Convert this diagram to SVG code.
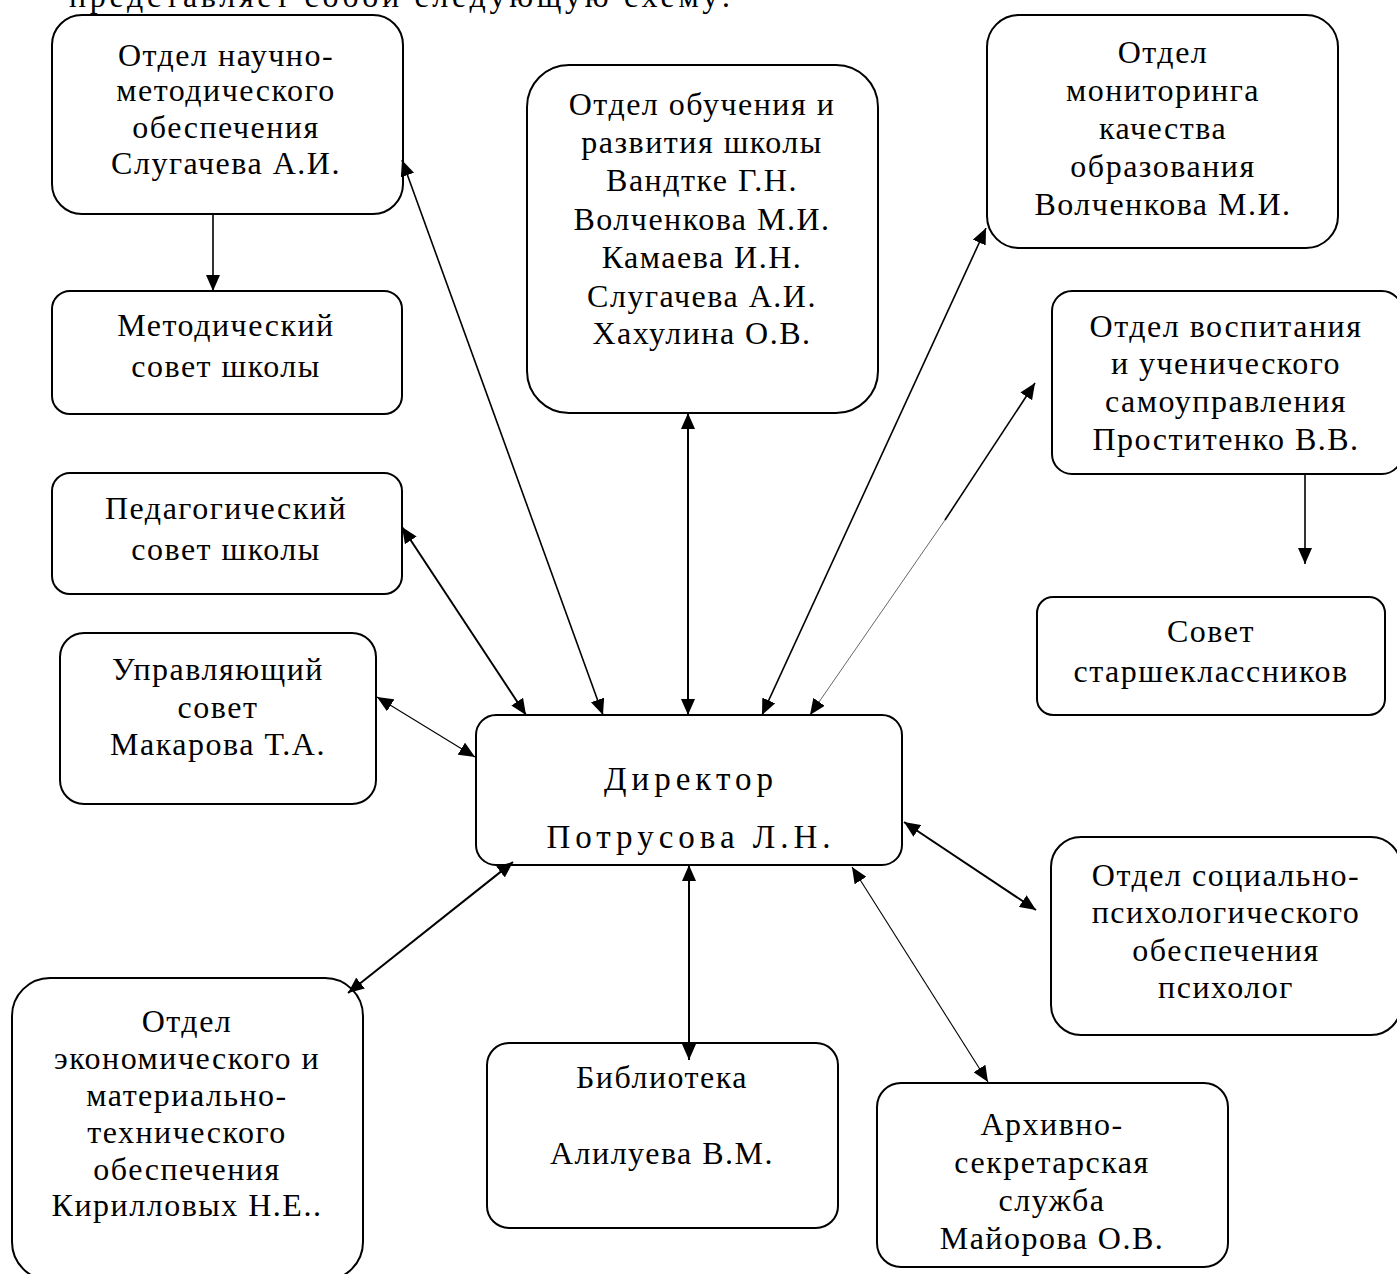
<svg xmlns="http://www.w3.org/2000/svg" width="1397" height="1274" viewBox="0 0 1397 1274">
<style>
  .box { fill: #ffffff; stroke: #000000; stroke-width: 2; }
  .t { font-family: "Liberation Serif", "Times New Roman", serif; font-size: 32px; letter-spacing: 1.5px; fill: #000000; text-anchor: middle; }
  .dir { font-size: 33px; letter-spacing: 5px; }
  .c { stroke: #000000; fill: none; }
  .w2 { stroke-width: 2; }
  .w16 { stroke-width: 1.6; }
  .w1 { stroke-width: 1.1; }
  .w05 { stroke-width: 0.6; }
</style>
<defs>
  <marker id="ah" viewBox="0 0 16 14" refX="16" refY="7" markerWidth="16" markerHeight="14" orient="auto-start-reverse" markerUnits="userSpaceOnUse">
    <path d="M0,0 L16,7 L0,14 z" fill="#000000"/>
  </marker>
</defs>
<rect width="1397" height="1274" fill="#ffffff"/>
<text class="t" x="69" y="7" style="text-anchor:start" textLength="663" lengthAdjust="spacing">представляет собой следующую схему:</text>

<g id="node-nauchno">
  <rect class="box" x="52" y="15" width="351" height="199" rx="30"/>
  <text class="t" x="226" y="66">Отдел научно-</text>
  <text class="t" x="226" y="101">методического</text>
  <text class="t" x="226" y="138">обеспечения</text>
  <text class="t" x="226" y="174">Слугачева А.И.</text>
</g>
<g id="node-metod-sovet">
  <rect class="box" x="52" y="291" width="350" height="123" rx="18"/>
  <text class="t" x="226" y="336">Методический</text>
  <text class="t" x="226" y="377">совет школы</text>
</g>
<g id="node-ped-sovet">
  <rect class="box" x="52" y="473" width="350" height="121" rx="18"/>
  <text class="t" x="226" y="519">Педагогический</text>
  <text class="t" x="226" y="560">совет школы</text>
</g>
<g id="node-upr-sovet">
  <rect class="box" x="60" y="633" width="316" height="171" rx="24"/>
  <text class="t" x="218" y="680">Управляющий</text>
  <text class="t" x="218" y="718">совет</text>
  <text class="t" x="218" y="755">Макарова Т.А.</text>
</g>
<g id="node-obuchenie">
  <rect class="box" x="527" y="65" width="351" height="348" rx="42"/>
  <text class="t" x="702" y="115">Отдел обучения и</text>
  <text class="t" x="702" y="153">развития школы</text>
  <text class="t" x="702" y="191">Вандтке Г.Н.</text>
  <text class="t" x="702" y="230">Волченкова М.И.</text>
  <text class="t" x="702" y="268">Камаева И.Н.</text>
  <text class="t" x="702" y="307">Слугачева А.И.</text>
  <text class="t" x="702" y="344">Хахулина О.В.</text>
</g>
<g id="node-monitoring">
  <rect class="box" x="987" y="15" width="351" height="233" rx="32"/>
  <text class="t" x="1163" y="63">Отдел</text>
  <text class="t" x="1163" y="101">мониторинга</text>
  <text class="t" x="1163" y="139">качества</text>
  <text class="t" x="1163" y="177">образования</text>
  <text class="t" x="1163" y="215">Волченкова М.И.</text>
</g>
<g id="node-vospitanie">
  <rect class="box" x="1052" y="291" width="350" height="183" rx="20"/>
  <text class="t" x="1226" y="337">Отдел воспитания</text>
  <text class="t" x="1226" y="374">и ученического</text>
  <text class="t" x="1226" y="412">самоуправления</text>
  <text class="t" x="1226" y="450">Проститенко В.В.</text>
</g>
<g id="node-sovet-starsh">
  <rect class="box" x="1037" y="597" width="348" height="118" rx="16"/>
  <text class="t" x="1211" y="642">Совет</text>
  <text class="t" x="1211" y="682">старшеклассников</text>
</g>
<g id="node-director">
  <rect class="box" x="476" y="715" width="426" height="150" rx="20"/>
  <text class="t dir" x="691" y="790">Директор</text>
  <text class="t dir" x="691" y="848">Потрусова Л.Н.</text>
</g>
<g id="node-social">
  <rect class="box" x="1051" y="837" width="350" height="198" rx="30"/>
  <text class="t" x="1226" y="886">Отдел социально-</text>
  <text class="t" x="1226" y="923">психологического</text>
  <text class="t" x="1226" y="961">обеспечения</text>
  <text class="t" x="1226" y="998">психолог</text>
</g>
<g id="node-econom">
  <rect class="box" x="12" y="978" width="351" height="302" rx="38"/>
  <text class="t" x="187" y="1032">Отдел</text>
  <text class="t" x="187" y="1069">экономического и</text>
  <text class="t" x="187" y="1106">материально-</text>
  <text class="t" x="187" y="1143">технического</text>
  <text class="t" x="187" y="1180">обеспечения</text>
  <text class="t" x="187" y="1216">Кирилловых Н.Е..</text>
</g>
<g id="node-biblioteka">
  <rect class="box" x="487" y="1043" width="351" height="185" rx="22"/>
  <text class="t" x="662" y="1088">Библиотека</text>
  <text class="t" x="662" y="1164">Алилуева В.М.</text>
</g>
<g id="node-arhiv">
  <rect class="box" x="877" y="1083" width="351" height="184" rx="24"/>
  <text class="t" x="1052" y="1135">Архивно-</text>
  <text class="t" x="1052" y="1173">секретарская</text>
  <text class="t" x="1052" y="1211">служба</text>
  <text class="t" x="1052" y="1249">Майорова О.В.</text>
</g>

<g id="connectors">
  <line class="c w16" x1="213" y1="214" x2="213" y2="291" marker-end="url(#ah)"/>
  <line class="c w16" x1="402" y1="160" x2="603" y2="715" marker-start="url(#ah)" marker-end="url(#ah)"/>
  <line class="c w2" x1="402" y1="527" x2="526" y2="715" marker-start="url(#ah)" marker-end="url(#ah)"/>
  <line class="c w1" x1="377" y1="697" x2="475" y2="757" marker-start="url(#ah)" marker-end="url(#ah)"/>
  <line class="c w2" x1="688" y1="413" x2="688" y2="715" marker-start="url(#ah)" marker-end="url(#ah)"/>
  <line class="c w16" x1="986" y1="228" x2="762" y2="715" marker-start="url(#ah)" marker-end="url(#ah)"/>
  <line class="c w16" x1="1035" y1="383" x2="945" y2="520" marker-start="url(#ah)"/>
  <line class="c w05" x1="945" y1="520" x2="810" y2="715" marker-end="url(#ah)"/>
  <line class="c w16" x1="1305" y1="474" x2="1305" y2="564" marker-end="url(#ah)"/>
  <line class="c w2" x1="904" y1="822" x2="1036" y2="910" marker-start="url(#ah)" marker-end="url(#ah)"/>
  <line class="c w1" x1="852" y1="867" x2="988" y2="1082" marker-start="url(#ah)" marker-end="url(#ah)"/>
  <line class="c w2" x1="689" y1="865" x2="689" y2="1060" marker-start="url(#ah)" marker-end="url(#ah)"/>
  <line class="c w2" x1="513" y1="862" x2="348" y2="993" marker-start="url(#ah)" marker-end="url(#ah)"/>
</g>
</svg>
